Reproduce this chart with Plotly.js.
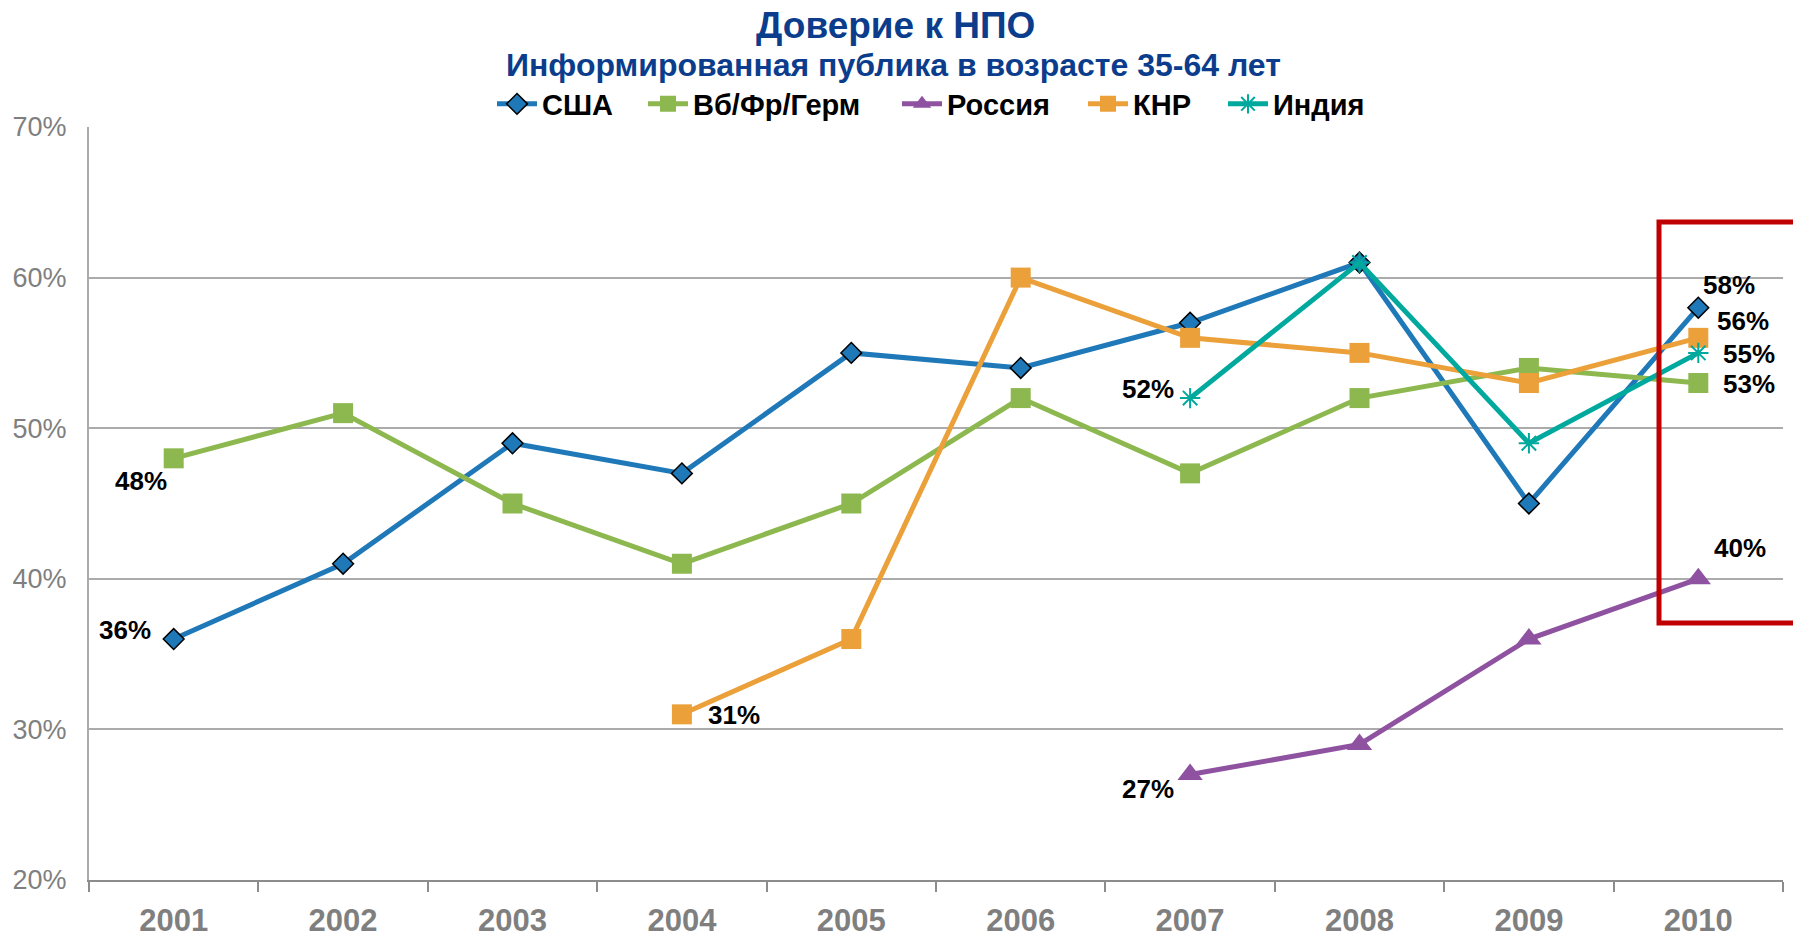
<!DOCTYPE html>
<html>
<head>
<meta charset="utf-8">
<script src="https://cdn.plot.ly/plotly-3.0.1.min.js"></script>
<style>html,body{margin:0;padding:0;background:#fff;}#chart{width:1793px;height:942px;}</style>
</head>
<body>
<div id="chart"></div>
<script>
const years = ['2001','2002','2003','2004','2005','2006','2007','2008','2009','2010'];
const usa     = [36, 41, 49, 47, 55, 54, 57, 61, 45, 58];
const ukFrGer = [48, 51, 45, 41, 45, 52, 47, 52, 54, 53];
const russia  = [null, null, null, null, null, null, 27, 29, 36, 40];
const china   = [null, null, null, 31, 36, 60, 56, 55, 53, 56];
const india   = [null, null, null, null, null, null, 52, 61, 49, 55];
const seriesNames = ['США', 'Вб/Фр/Герм', 'Россия', 'КНР', 'Индия'];
const yTicks = [20, 30, 40, 50, 60, 70];
const yTickLabels = ['20%', '30%', '40%', '50%', '60%', '70%'];

const FONT = 'Liberation Sans, Arial, sans-serif';
const L = 89, PW = 1694, T = 127, PH = 753;
const legendIds = ['legend', 'legend2', 'legend3', 'legend4', 'legend5'];
const legendStartPx = [492, 643, 897, 1083, 1223];

const traces = [
  {name: seriesNames[0], y: usa, color: '#1F78B8', symbol: 'diamond', size: 16, line: {color: '#000', width: 1.5}},
  {name: seriesNames[1], y: ukFrGer, color: '#8DB84F', symbol: 'square', size: 20, line: {width: 0}},
  {name: seriesNames[2], y: russia, color: '#8E52A1', symbol: 'triangle-up', size: 22, line: {width: 0}},
  {name: seriesNames[3], y: china, color: '#EBA03A', symbol: 'square', size: 20, line: {width: 0}},
  {name: seriesNames[4], y: india, color: '#00A99D', symbol: 'asterisk-open', size: 17, line: {color: '#00A99D', width: 2}}
].map((s, i) => ({
  type: 'scatter', mode: 'lines+markers', name: s.name, x: years, y: s.y, legend: legendIds[i],
  line: {color: s.color, width: 5},
  marker: {symbol: s.symbol, size: s.size, color: s.color, line: s.line},
  connectgaps: false, cliponaxis: false
}));

// data labels: [series values, index, xshift, yshift]
const labelSpecs = [
  [usa, 0, -49, 9],
  [ukFrGer, 0, -33, -23],
  [china, 3, 52, -1],
  [india, 6, -42, 9],
  [russia, 6, -42, -14],
  [usa, 9, 31, 23],
  [china, 9, 45, 17],
  [india, 9, 51, -1],
  [ukFrGer, 9, 51, -1],
  [russia, 9, 42, 31]
];
const annotations = labelSpecs.map(([arr, i, dx, dy]) => ({
  x: i, y: arr[i], xref: 'x', yref: 'y', text: '<b>' + arr[i] + '%</b>', showarrow: false,
  xshift: dx, yshift: dy, font: {family: FONT, size: 26, color: '#000'}
}));
annotations.push({
  xref: 'paper', yref: 'paper', x: (895 - L) / PW, y: 1 + (T - 25) / PH, xanchor: 'center', yanchor: 'middle',
  text: '<b>Доверие к НПО</b>', showarrow: false, font: {family: FONT, size: 37, color: '#0B3D8C'}
});
annotations.push({
  xref: 'paper', yref: 'paper', x: (893 - L) / PW, y: 1 + (T - 65) / PH, xanchor: 'center', yanchor: 'middle',
  text: '<b>Информированная публика в возрасте 35-64 лет</b>', showarrow: false,
  font: {family: FONT, size: 32, color: '#0B3D8C'}
});

const layout = {
  width: 1793, height: 942,
  margin: {l: L, r: 10, t: T, b: 62},
  paper_bgcolor: '#fff', plot_bgcolor: '#fff',
  showlegend: true,
  xaxis: {type: 'category', range: [-0.5, 9.5], showgrid: false, showline: true, linecolor: '#8C8C8C', linewidth: 2,
          ticks: 'outside', tickson: 'boundaries', ticklen: 10, tickcolor: '#8C8C8C', tickwidth: 2,
          tickfont: {family: FONT, size: 31, color: '#7F7F7F', weight: 'bold'}, ticklabelstandoff: 12,
          fixedrange: true, zeroline: false},
  yaxis: {range: [20, 70], tickvals: yTicks, ticktext: yTickLabels, showgrid: true, gridcolor: '#ABABAB', gridwidth: 2,
          showline: true, linecolor: '#ABABAB', linewidth: 2, ticks: '', zeroline: false,
          tickfont: {family: FONT, size: 27, color: '#7F7F7F'}, ticklabelstandoff: 15, fixedrange: true},
  shapes: [{type: 'rect', xref: 'paper', yref: 'paper', x0: (1659 - L) / PW, x1: 1.02,
            y0: (880 - 623) / PH, y1: (880 - 222) / PH, line: {color: '#C00000', width: 5}, fillcolor: 'rgba(0,0,0,0)'}],
  annotations: annotations
};
legendIds.forEach((id, i) => {
  layout[id] = {orientation: 'h', x: (legendStartPx[i] - L) / PW, xanchor: 'left', y: 1 + 23 / PH, yanchor: 'middle',
    font: {family: FONT, size: 29, color: '#000', weight: 'bold'}, itemwidth: 40, bgcolor: 'rgba(0,0,0,0)', borderwidth: 0};
});
Plotly.newPlot('chart', traces, layout, {displayModeBar: false, staticPlot: true});
</script>
</body>
</html>
